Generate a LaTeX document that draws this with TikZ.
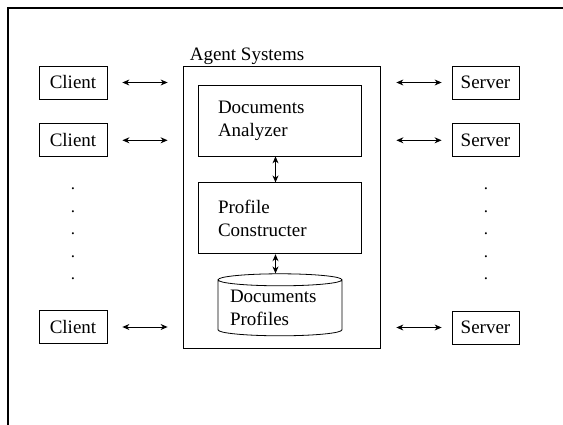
\documentclass[tikz,border=0pt]{standalone}
\usepackage{fontspec}
\setmainfont{Liberation Serif}
\usepackage{tikz}
\usetikzlibrary{arrows.meta, positioning, shapes.geometric}

\begin{document}
\begin{tikzpicture}[x=1pt, y=-1pt, font=\fontsize{19}{23}\selectfont]
  \tikzstyle{endbox} = [rectangle, draw, line width=0.8pt, minimum height=33pt, inner sep=0pt]
  \tikzstyle{part} = [rectangle, draw, line width=0.8pt, text width=123pt, align=left, inner xsep=20pt, minimum width=163pt, minimum height=71pt]
  \tikzstyle{arrow} = [line width=0.9pt, {Stealth[length=7pt,width=6pt]}-{Stealth[length=7pt,width=6pt]}]

  \useasboundingbox (0,0) rectangle (563,425);
  \draw [line width=1.4pt] (563,8) -- (8,8) -- (8,425);

  % the agent system in the middle
  \node [rectangle, draw, line width=0.8pt, minimum width=197pt, minimum height=282pt] (agent) at (281.5,207) {};
  \node [anchor=base west, inner sep=0pt] (title) at ([xshift=7pt,yshift=5pt]agent.north west) {Agent Systems};

  \node [part] (analyzer) at (279.5,120.5) {Documents\\Analyzer};
  \node [part, below=26pt of analyzer] (constructer) {Profile\\Constructer};
  \node [cylinder, shape border rotate=90, aspect=0.12, draw, line width=0.8pt, minimum width=124pt, minimum height=62pt, align=left, inner sep=0pt, text width=100pt] (profiles) at (280,308) {Documents\\Profiles};

  % clients
  \node [endbox, minimum width=68pt] (client1) at (73,82.5) {Client};
  \node [endbox, minimum width=68pt, below=24pt of client1] (client2) {Client};
  \node [endbox, minimum width=68pt] (client3) at (73,327) {Client};
  \node [inner sep=0pt, align=center, font=\fontsize{17}{22.5}\selectfont] (cdots) at (73,234) {.\\.\\.\\.\\.};

  % servers
  \node [endbox, minimum width=67pt] (server1) at (485.5,82.5) {Server};
  \node [endbox, minimum width=67pt, below=24pt of server1] (server2) {Server};
  \node [endbox, minimum width=67pt] (server3) at (485.5,327.5) {Server};
  \node [inner sep=0pt, align=center, font=\fontsize{17}{22.5}\selectfont] (sdots) at (486,234) {.\\.\\.\\.\\.};

  \draw [arrow, shorten <=15pt, shorten >=15pt] (client1) -- (client1 -| agent.west);
  \draw [arrow, shorten <=15pt, shorten >=15pt] (client2) -- (client2 -| agent.west);
  \draw [arrow, shorten <=15pt, shorten >=15pt] (client3) -- (client3 -| agent.west);
  \draw [arrow, shorten <=16pt, shorten >=10pt] (server1 -| agent.east) -- (server1);
  \draw [arrow, shorten <=16pt, shorten >=10pt] (server2 -| agent.east) -- (server2);
  \draw [arrow, shorten <=16pt, shorten >=10pt] (server3 -| agent.east) -- (server3);

  \draw [arrow] ([xshift=-4pt]analyzer.south) -- ([xshift=-4pt]constructer.north);
  \draw [arrow] ([xshift=-4pt]constructer.south) -- ([xshift=-4pt]constructer.south |- profiles.north);
\end{tikzpicture}
\end{document}
